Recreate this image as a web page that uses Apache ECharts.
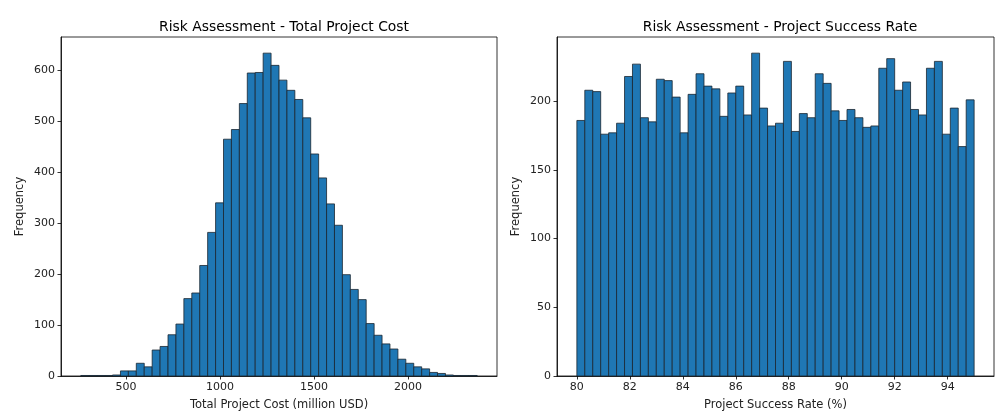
<!DOCTYPE html>
<html><head><meta charset="utf-8">
<script src="https://cdn.jsdelivr.net/npm/echarts@6/dist/echarts.min.js"></script>
<style>html,body{margin:0;padding:0;background:#fff}#c{width:995px;height:412px}</style>
</head><body><div id="c"></div>
<script>
// Left histogram: Total Project Cost (50 bins)
const costMin = 259, costMax = 2368;
const costCounts = [1,1,1,1,2,10,10,25,18,51,58,81,102,152,163,217,282,340,465,484,535,595,596,634,610,
                    581,561,543,507,436,389,338,296,199,170,150,103,80,63,53,33,25,18,14,7,5,2,1,1,1];
const costXTicks = [500,1000,1500,2000];
const costYTicks = [0,100,200,300,400,500,600];

// Right histogram: Project Success Rate (50 bins)
const rateMin = 80, rateMax = 95;
const rateCounts = [186,208,207,176,177,184,218,227,188,185,216,215,203,177,205,220,211,209,189,206,211,190,235,195,182,
                    184,229,178,191,188,220,213,193,186,194,188,181,182,224,231,208,214,194,190,224,229,176,195,167,201];
const rateXTicks = [80,82,84,86,88,90,92,94];
const rateYTicks = [0,50,100,150,200];

function binData(counts, lo, hi){
  const w = (hi - lo) / counts.length;
  return counts.map((c,i)=>[lo + i*w, lo + (i+1)*w, c]);
}
function renderItem(params, api){
  const p0 = api.coord([api.value(0), api.value(2)]);
  const p1 = api.coord([api.value(1), 0]);
  return {type:'rect', shape:{x:p0[0], y:p0[1], width:p1[0]-p0[0], height:p1[1]-p0[1]},
          style:{fill:'#1f77b4', stroke:'#1b2630', lineWidth:0.8}};
}
const FONT = 'DejaVu Sans';
const tickTxt = {fontFamily:FONT, fontSize:11, color:'#222'};
const nameTxt = {fontFamily:FONT, fontSize:11.5, color:'#222'};
const fmt = v => String(v);
function xAxis(idx, lo, hi, ticks, name){
  const pad = 0.05*(hi-lo);
  return {type:'value', gridIndex:idx, min:lo-pad, max:hi+pad,
    name:name, nameLocation:'middle', nameGap:23, nameTextStyle:nameTxt,
    axisLine:{show:true, lineStyle:{color:'#000', width:0.8}},
    axisTick:{show:true, length:3.5, lineStyle:{color:'#000', width:0.8}, customValues:ticks},
    axisLabel:Object.assign({margin:6, customValues:ticks, formatter:fmt}, tickTxt),
    splitLine:{show:false}};
}
function yAxis(idx, counts, ticks){
  return {type:'value', gridIndex:idx, min:0, max:1.05*Math.max(...counts),
    name:'Frequency', nameLocation:'middle', nameGap:35, nameTextStyle:nameTxt,
    axisLine:{show:true, lineStyle:{color:'#000', width:0.8}},
    axisTick:{show:true, length:3.5, lineStyle:{color:'#000', width:0.8}, customValues:ticks},
    axisLabel:Object.assign({margin:6, customValues:ticks, formatter:fmt}, tickTxt),
    splitLine:{show:false}};
}
const chart = echarts.init(document.getElementById('c'), null, {renderer:'canvas'});
chart.setOption({
  animation:false,
  backgroundColor:'#fff',
  title:[
    {text:'Risk Assessment - Total Project Cost', left:279, top:15, textAlign:'center',
     textStyle:{fontFamily:FONT, fontSize:13.9, fontWeight:'normal', color:'#000'}},
    {text:'Risk Assessment - Project Success Rate', left:775, top:15, textAlign:'center',
     textStyle:{fontFamily:FONT, fontSize:13.9, fontWeight:'normal', color:'#000'}}
  ],
  grid:[
    {left:61, top:37, width:436, height:339, show:true, borderColor:'#000', borderWidth:0.8,
     containLabel:false, outerBoundsMode:'none'},
    {left:557, top:37, width:437, height:339, show:true, borderColor:'#000', borderWidth:0.8,
     containLabel:false, outerBoundsMode:'none'}
  ],
  xAxis:[xAxis(0,costMin,costMax,costXTicks,'Total Project Cost (million USD)'),
         xAxis(1,rateMin,rateMax,rateXTicks,'Project Success Rate (%)')],
  yAxis:[yAxis(0,costCounts,costYTicks), yAxis(1,rateCounts,rateYTicks)],
  series:[
    {type:'custom', xAxisIndex:0, yAxisIndex:0, renderItem, encode:{x:[0,1], y:2},
     data:binData(costCounts,costMin,costMax)},
    {type:'custom', xAxisIndex:1, yAxisIndex:1, renderItem, encode:{x:[0,1], y:2},
     data:binData(rateCounts,rateMin,rateMax)}
  ]
});
</script></body></html>
